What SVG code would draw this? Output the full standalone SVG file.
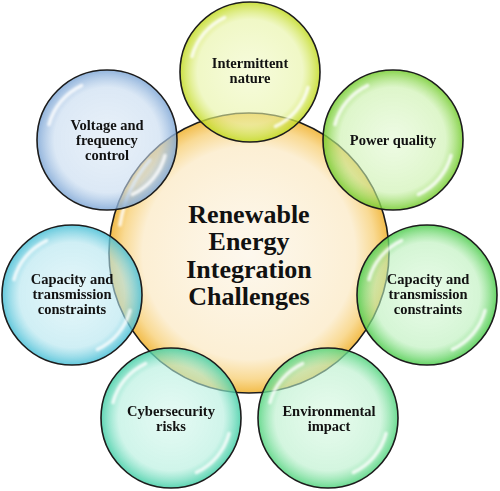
<svg xmlns="http://www.w3.org/2000/svg" width="500" height="491" viewBox="0 0 500 491">
<style>
.ring{stroke:#1c1c1c;stroke-width:1.6}
.t{font-family:"Liberation Serif","Times New Roman",serif;font-weight:bold;font-size:14.5px;fill:#111;text-anchor:middle}
.big{font-family:"Liberation Serif","Times New Roman",serif;font-weight:bold;font-size:26px;fill:#111;text-anchor:middle}
.hl{fill:none;stroke:#fff;stroke-width:3.5;stroke-linecap:round;opacity:0.8}
.s0{stop-opacity:0.55}
.s1{stop-opacity:0.6}
.s2{stop-opacity:0.85}
</style>
<defs>
<filter id="soft" x="-20%" y="-20%" width="140%" height="140%"><feGaussianBlur stdDeviation="1.2"/></filter>
<radialGradient id="gO"><stop offset="0" stop-color="#fdf8ee"/><stop offset="0.76" stop-color="#fcefd4"/><stop offset="0.9" stop-color="#f9da94"/><stop offset="1" stop-color="#f2bc4a"/></radialGradient>
<radialGradient id="gY"><stop class="s0" offset="0" stop-color="#eff8bf"/><stop class="s1" offset="0.75" stop-color="#e6f3a0"/><stop class="s2" offset="1" stop-color="#c2da20"/></radialGradient>
<radialGradient id="gB"><stop class="s0" offset="0" stop-color="#d7e6f4"/><stop class="s1" offset="0.75" stop-color="#c4d9ef"/><stop class="s2" offset="1" stop-color="#7fa7d6"/></radialGradient>
<radialGradient id="gG1"><stop class="s0" offset="0" stop-color="#e0f8ce"/><stop class="s1" offset="0.75" stop-color="#c8f0a8"/><stop class="s2" offset="1" stop-color="#74cc2e"/></radialGradient>
<radialGradient id="gG2"><stop class="s0" offset="0" stop-color="#d7f8d7"/><stop class="s1" offset="0.75" stop-color="#b8efb8"/><stop class="s2" offset="1" stop-color="#4ccc4c"/></radialGradient>
<radialGradient id="gG3"><stop class="s0" offset="0" stop-color="#d5f8e0"/><stop class="s1" offset="0.75" stop-color="#b6efca"/><stop class="s2" offset="1" stop-color="#52d47e"/></radialGradient>
<radialGradient id="gT"><stop class="s0" offset="0" stop-color="#d1f6eb"/><stop class="s1" offset="0.75" stop-color="#b0eedc"/><stop class="s2" offset="1" stop-color="#42cea6"/></radialGradient>
<radialGradient id="gC"><stop class="s0" offset="0" stop-color="#d1f0f6"/><stop class="s1" offset="0.75" stop-color="#b0e4ee"/><stop class="s2" offset="1" stop-color="#48bfd6"/></radialGradient>
<g id="shine" filter="url(#soft)">
<path class="hl" d="M-58,-15.5 A60,60 0 0 1 -25.4,-54.4"/>
<path class="hl" d="M58,15.5 A60,60 0 0 1 25.4,54.4"/>
</g>
</defs>
<rect width="500" height="491" fill="#fff"/>
<g id="connectors"/>
<g id="center">
<circle class="ring" cx="249" cy="253" r="140" fill="url(#gO)"/>
<path class="hl" filter="url(#soft)" d="M120,225 A130,130 0 0 1 150,160" opacity="0.6"/>
<text class="big" x="249" y="222.5">Renewable</text>
<text class="big" x="249" y="250">Energy</text>
<text class="big" x="249" y="277.5">Integration</text>
<text class="big" x="249" y="305">Challenges</text>
</g>
<g id="intermittent">
<circle class="ring" cx="250" cy="72" r="70" fill="url(#gY)"/>
<use href="#shine" x="250" y="72"/>
<text class="t" x="250" y="68">Intermittent</text>
<text class="t" x="250" y="83">nature</text>
</g>
<g id="voltage">
<circle class="ring" cx="107" cy="140" r="70" fill="url(#gB)"/>
<use href="#shine" x="107" y="140"/>
<text class="t" x="107" y="130">Voltage and</text>
<text class="t" x="107" y="145">frequency</text>
<text class="t" x="107" y="160">control</text>
</g>
<g id="power">
<circle class="ring" cx="393" cy="140" r="70" fill="url(#gG1)"/>
<use href="#shine" x="393" y="140"/>
<text class="t" x="393" y="145">Power quality</text>
</g>
<g id="capacity-left">
<circle class="ring" cx="72" cy="295" r="70" fill="url(#gC)"/>
<use href="#shine" x="72" y="295"/>
<text class="t" x="72" y="284">Capacity and</text>
<text class="t" x="72" y="299">transmission</text>
<text class="t" x="72" y="314">constraints</text>
</g>
<g id="capacity-right">
<circle class="ring" cx="427" cy="295" r="70" fill="url(#gG2)"/>
<use href="#shine" x="427" y="295"/>
<text class="t" x="428" y="284">Capacity and</text>
<text class="t" x="428" y="299">transmission</text>
<text class="t" x="428" y="314">constraints</text>
</g>
<g id="cybersecurity">
<circle class="ring" cx="171" cy="418" r="70" fill="url(#gT)"/>
<use href="#shine" x="171" y="418"/>
<text class="t" x="171" y="416">Cybersecurity</text>
<text class="t" x="171" y="431">risks</text>
</g>
<g id="environmental">
<circle class="ring" cx="328" cy="418" r="70" fill="url(#gG3)"/>
<use href="#shine" x="328" y="418"/>
<text class="t" x="329" y="416">Environmental</text>
<text class="t" x="329" y="431">impact</text>
</g>
</svg>
